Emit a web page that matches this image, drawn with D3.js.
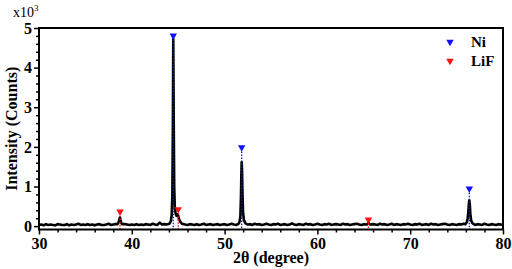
<!DOCTYPE html>
<html><head><meta charset="utf-8">
<script src="https://cdn.jsdelivr.net/npm/d3@7"></script>
<style>body{margin:0;background:#fff}svg{display:block}svg text{font-family:"Liberation Serif","Times New Roman",serif !important}</style>
</head><body>
<script>
// ---- data (intensity in units of 10^3 counts) ----
const bgStart = 30, bgStep = 0.25;
const bgIntensity = [
 0.03,0.04,0.02,0.05,0.03,0.04,0.03,0.02,0.05,0.04,0.03,0.03,0.05,0.02,0.04,0.03,0.04,0.06,0.03,0.04,
 0.03,0.05,0.03,0.04,0.02,0.04,0.05,0.03,0.03,0.04,0.06,0.03,0.04,0.05,0.03,0.04,0.03,0.05,0.04,0.03,
 0.04,0.03,0.05,0.03,0.04,0.03,0.05,0.04,0.03,0.06,0.04,0.03,0.09,0.04,0.05,0.04,0.06,0.05,0.07,0.06,
 0.05,0.04,0.06,0.04,0.03,0.05,0.04,0.03,0.05,0.03,0.04,0.06,0.03,0.04,0.05,0.03,0.04,0.05,0.03,0.04,
 0.05,0.03,0.04,0.06,0.04,0.03,0.05,0.04,0.06,0.03,0.04,0.05,0.03,0.06,0.04,0.05,0.03,0.04,0.06,0.04,
 0.03,0.05,0.04,0.06,0.03,0.04,0.05,0.03,0.04,0.07,0.04,0.03,0.05,0.04,0.03,0.06,0.04,0.05,0.03,0.04,
 0.06,0.04,0.03,0.05,0.04,0.06,0.03,0.04,0.05,0.04,0.03,0.06,0.04,0.05,0.03,0.04,0.05,0.06,0.04,0.03,
 0.05,0.04,0.06,0.03,0.05,0.04,0.03,0.06,0.04,0.05,0.03,0.04,0.06,0.03,0.05,0.04,0.03,0.05,0.04,0.06,
 0.04,0.03,0.05,0.04,0.06,0.03,0.04,0.05,0.03,0.06,0.04,0.05,0.03,0.04,0.05,0.06,0.04,0.03,0.05,0.04,
 0.03,0.05,0.04,0.06,0.04,0.03,0.05,0.04,0.03,0.05,0.04,0.03,0.06,0.04,0.03,0.05,0.04,0.03,0.05,0.04,
 0.03
];
const peakTwoTheta = [
 38.45,38.55,38.63,38.69,38.73,38.78,38.85,38.95,
 44.05,44.2,44.3,44.37,44.42,44.47,44.52,44.57,44.63,44.72,44.82,44.92,45.0,45.1,45.25,45.4,
 51.45,51.6,51.7,51.76,51.81,51.84,51.88,51.93,51.99,52.08,52.25,
 65.35,65.45,65.52,65.6,65.7,
 75.95,76.1,76.2,76.28,76.33,76.37,76.42,76.48,76.56,76.68,76.85
];
const peakIntensity = [
 0.05,0.08,0.14,0.2,0.22,0.16,0.09,0.05,
 0.06,0.12,0.28,0.8,2.3,4.72,2.6,1.0,0.5,0.32,0.26,0.3,0.27,0.17,0.1,0.06,
 0.05,0.1,0.25,0.7,1.35,1.62,1.4,0.8,0.35,0.15,0.07,
 0.04,0.07,0.08,0.05,0.04,
 0.05,0.1,0.2,0.42,0.58,0.65,0.55,0.32,0.15,0.08,0.05
];
const peakWindows = [[38.4,39.0],[44.0,45.5],[51.4,52.3],[65.3,65.75],[75.9,76.9]];
const niPos = [44.47, 51.84, 76.37];
const niMark = [4.78, 1.96, 0.92];
const lifPos = [38.73, 45.0, 65.5];
const lifMark = [0.34, 0.40, 0.14];
const xTicks = [30, 40, 50, 60, 70, 80];
const yTicks = [0, 1, 2, 3, 4, 5];

// ---- build series ----
const pts = [];
bgIntensity.forEach((v, i) => {
  const x = bgStart + i * bgStep;
  if (!peakWindows.some(w => x >= w[0] && x <= w[1])) pts.push([x, v]);
});
peakTwoTheta.forEach((x, i) => pts.push([x, peakIntensity[i]]));
pts.sort((a, b) => a[0] - b[0]);

// ---- layout ----
const W = 512, H = 269;
const L = 39, R = 503, T = 28, B = 229.5;
const svg = d3.select("body").append("svg").attr("width", W).attr("height", H);
const x = d3.scaleLinear().domain([30, 80]).range([L, R]);
const y = d3.scaleLinear().domain([-0.085, 5]).range([B, T]);

// data line
svg.append("path").datum(pts)
  .attr("fill", "none").attr("stroke", "#000").attr("stroke-width", 2.6)
  .attr("stroke-linejoin", "round")
  .attr("d", d3.line().x(d => x(d[0])).y(d => y(d[1])));

// drop lines + markers
const tri = d3.symbol().type(d3.symbolTriangle).size(24);
function markers(pos, mk, color) {
  pos.forEach((p, i) => {
    svg.append("line").attr("x1", x(p)).attr("x2", x(p))
      .attr("y1", y(mk[i])).attr("y2", B)
      .attr("stroke", color).attr("stroke-width", 1.3).attr("stroke-dasharray", "1.5,1.5");
    svg.append("path").attr("d", tri)
      .attr("transform", `translate(${x(p)},${y(mk[i]) - 1}) rotate(180)`)
      .attr("fill", color);
  });
}
markers(niPos, niMark, "#1010ff");
markers(lifPos, lifMark, "#ff1010");

// axes
const xAxis = svg.append("g").attr("transform", `translate(0,${B})`)
  .call(d3.axisBottom(x).tickValues(xTicks).tickSize(5).tickPadding(3).tickFormat(d3.format("d")));
const xMinor = svg.append("g").attr("transform", `translate(0,${B})`)
  .call(d3.axisBottom(x).tickValues(d3.range(32, 80, 2).filter(v => v % 10)).tickSize(3).tickFormat(""));
const yAxis = svg.append("g").attr("transform", `translate(${L},0)`)
  .call(d3.axisLeft(y).tickValues(yTicks).tickSize(5).tickPadding(2).tickFormat(d3.format("d")));
const yMinor = svg.append("g").attr("transform", `translate(${L},0)`)
  .call(d3.axisLeft(y).tickValues(d3.range(0.2, 5, 0.2).filter(v => Math.abs(v - Math.round(v)) > 0.01)).tickSize(3).tickFormat(""));
[xAxis, xMinor, yAxis, yMinor].forEach(g => {
  g.attr("font-family", null);
  g.select(".domain").remove();
  g.selectAll("line").attr("stroke", "#000").attr("stroke-width", 1.5);
  g.selectAll("text").attr("font-weight", "bold")
    .attr("font-size", 16).attr("fill", "#000");
});
// frame
svg.append("rect").attr("x", L).attr("y", T).attr("width", R - L).attr("height", B - T)
  .attr("fill", "none").attr("stroke", "#000").attr("stroke-width", 2);

// labels
svg.append("text").attr("x", (L + R) / 2).attr("y", 263).attr("text-anchor", "middle")
  .attr("font-weight", "bold").attr("font-size", 16)
  .text("2θ (degree)");
svg.append("text").attr("transform", `translate(17,${(T + B) / 2}) rotate(-90)`)
  .attr("text-anchor", "middle")
  .attr("font-weight", "bold").attr("font-size", 16)
  .text("Intensity (Counts)");
const sc = svg.append("text").attr("x", 13).attr("y", 17)
  .attr("font-size", 14).text("x10");
sc.append("tspan").attr("dy", -6).attr("font-size", 9).text("3");

// legend
const legend = [["Ni", "#1010ff", 42], ["LiF", "#ff1010", 61]];
legend.forEach(([name, c, ly]) => {
  svg.append("path").attr("d", tri).attr("transform", `translate(450,${ly}) rotate(180)`).attr("fill", c);
  svg.append("text").attr("x", 471).attr("y", ly + 5)
    .attr("font-weight", "bold").attr("font-size", 15).text(name);
});
</script>
</body></html>
